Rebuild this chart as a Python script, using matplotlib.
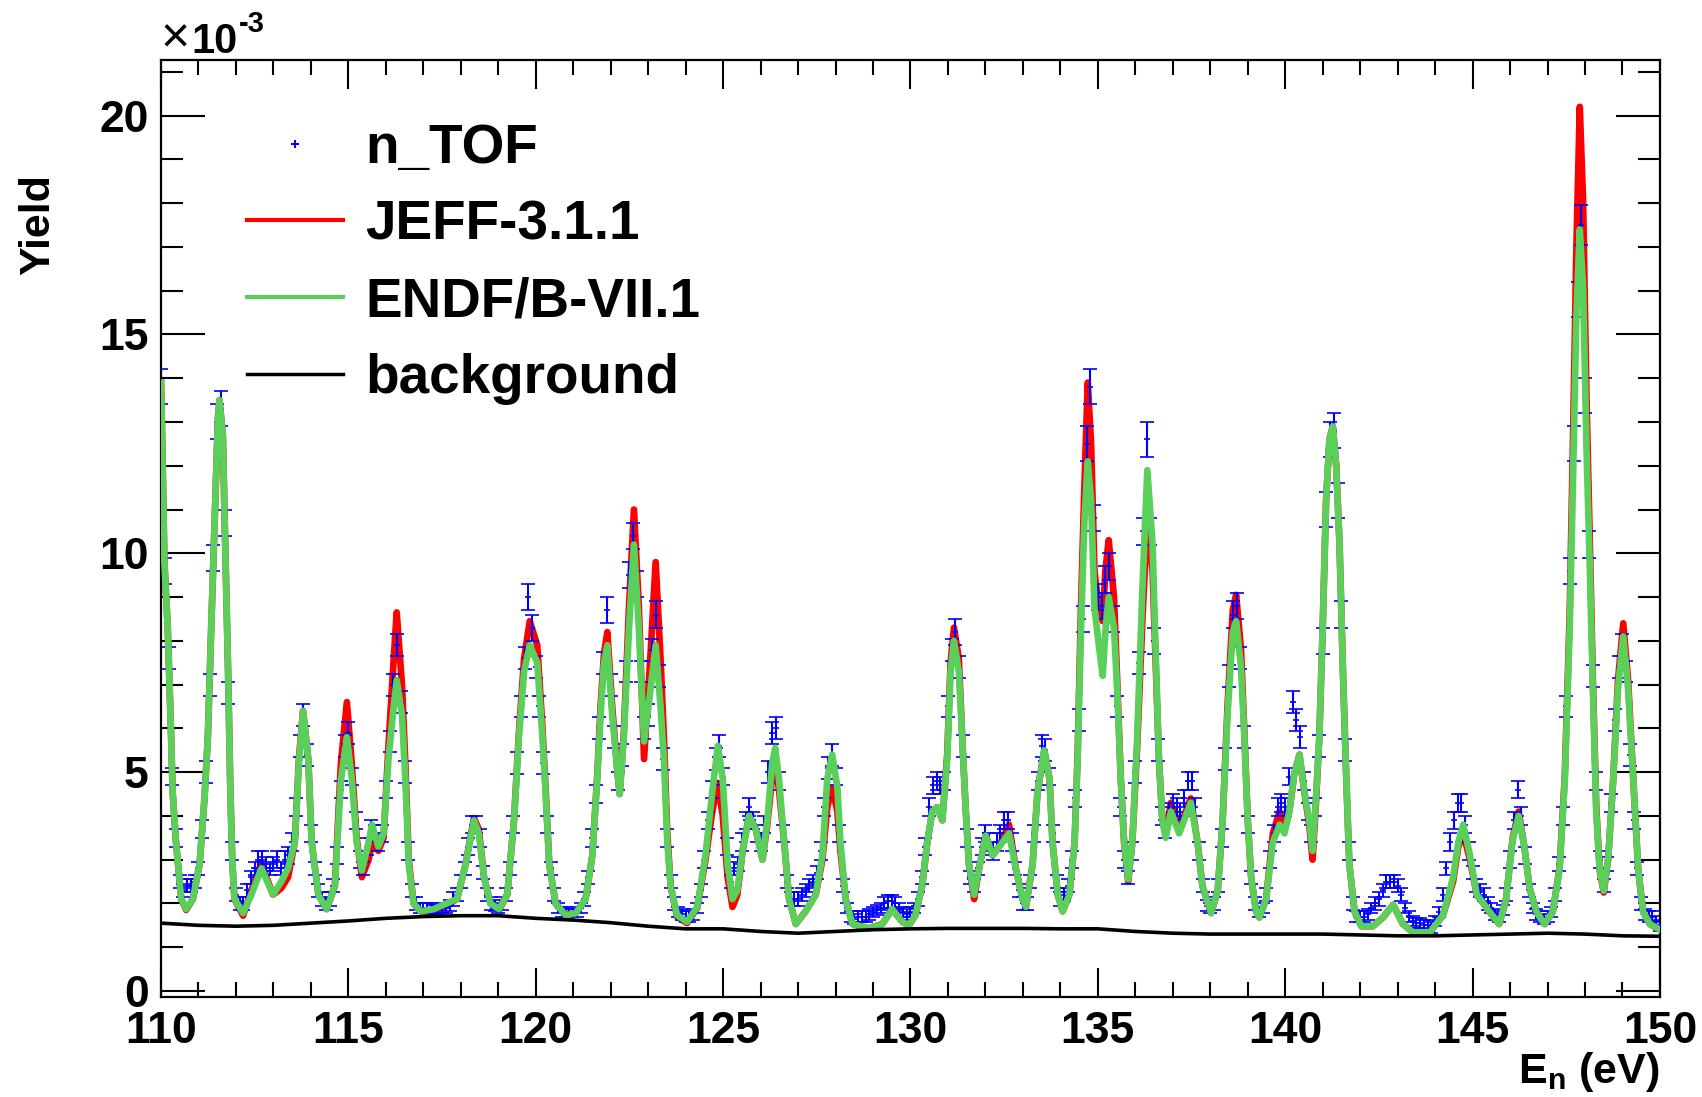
import numpy as np
import matplotlib
matplotlib.use('Agg')
import matplotlib.pyplot as plt
from matplotlib.ticker import MultipleLocator, FormatStrFormatter
from matplotlib.lines import Line2D
from matplotlib.font_manager import FontProperties

plt.rcParams['font.family'] = ['Liberation Sans', 'DejaVu Sans']
plt.rcParams['mathtext.fontset'] = 'custom'
plt.rcParams['mathtext.rm'] = 'Liberation Sans'
plt.rcParams['mathtext.bf'] = 'Liberation Sans:bold'
plt.rcParams['mathtext.it'] = 'Liberation Sans:italic'

# ---------------- data (yield in units of 1e-3) ----------------
x_ticks = [110, 115, 120, 125, 130, 135, 140, 145, 150]
y_ticks = [0, 5, 10, 15, 20]
legend_labels = ['n_TOF', 'JEFF-3.1.1', 'ENDF/B-VII.1', 'background']

model_energy = [
    110.00, 110.04, 110.09, 110.18, 110.27, 110.31, 110.40, 110.54, 110.67, 110.85,
    111.03, 111.16, 111.25, 111.34, 111.43, 111.52, 111.56, 111.65, 111.70, 111.79,
    111.85, 111.90, 111.96, 112.19, 112.41, 112.68, 112.99, 113.21, 113.39, 113.57,
    113.68, 113.79, 113.93, 114.02, 114.20, 114.42, 114.64, 114.80, 114.96, 115.09,
    115.22, 115.36, 115.54, 115.63, 115.80, 115.94, 116.07, 116.21, 116.29, 116.43,
    116.52, 116.61, 116.74, 116.92, 117.28, 117.54, 117.90, 118.13, 118.35, 118.48,
    118.62, 118.79, 119.02, 119.24, 119.42, 119.55, 119.69, 119.84, 120.04, 120.18,
    120.27, 120.36, 120.53, 120.80, 121.07, 121.33, 121.51, 121.64, 121.73, 121.82,
    121.91, 122.04, 122.18, 122.24, 122.35, 122.49, 122.62, 122.75, 122.89, 123.05,
    123.20, 123.33, 123.42, 123.51, 123.60, 123.77, 124.04, 124.31, 124.53, 124.71,
    124.86, 124.99, 125.12, 125.25, 125.38, 125.52, 125.69, 125.87, 126.05, 126.18,
    126.31, 126.39, 126.49, 126.63, 126.76, 126.94, 127.20, 127.47, 127.65, 127.78,
    127.91, 128.05, 128.13, 128.27, 128.45, 128.89, 129.25, 129.51, 129.78, 129.96,
    130.13, 130.31, 130.45, 130.58, 130.71, 130.85, 130.98, 131.07, 131.16, 131.29,
    131.38, 131.47, 131.56, 131.70, 131.83, 132.01, 132.19, 132.37, 132.63, 132.81,
    132.99, 133.08, 133.26, 133.39, 133.57, 133.71, 133.79, 133.93, 134.06, 134.24,
    134.38, 134.46, 134.55, 134.64, 134.73, 134.82, 134.91, 135.04, 135.13, 135.20,
    135.29, 135.43, 135.52, 135.61, 135.70, 135.81, 135.92, 136.05, 136.19, 136.32,
    136.46, 136.54, 136.63, 136.72, 136.81, 136.95, 137.17, 137.48, 137.66, 137.79,
    138.02, 138.20, 138.33, 138.46, 138.60, 138.69, 138.82, 138.91, 139.00, 139.09,
    139.22, 139.31, 139.49, 139.67, 139.85, 139.98, 140.11, 140.24, 140.38, 140.51,
    140.64, 140.73, 140.82, 140.91, 141.00, 141.09, 141.18, 141.27, 141.36, 141.45,
    141.54, 141.63, 141.71, 141.85, 142.03, 142.34, 142.61, 142.88, 143.14, 143.41,
    143.86, 144.21, 144.48, 144.62, 144.75, 144.93, 145.11, 145.29, 145.45, 145.71,
    145.89, 146.07, 146.23, 146.38, 146.52, 146.70, 146.92, 147.14, 147.32, 147.46,
    147.59, 147.68, 147.77, 147.86, 147.95, 148.04, 148.13, 148.21, 148.30, 148.39,
    148.50, 148.62, 148.75, 148.88, 149.02, 149.15, 149.29, 149.42, 149.55, 149.73,
    150.00]

endf_yield = [
    13.9, 12.2, 9.8, 8.3, 5.8, 4.55, 3.4, 2.1, 1.87, 2.1,
    2.9, 4.4, 5.8, 8.3, 10.7, 13.1, 13.5, 12.7, 10.7, 7.3,
    4.6, 3.0, 2.1, 1.78, 2.2, 2.8, 2.2, 2.5, 2.8, 3.4,
    5.2, 6.4, 5.3, 3.4, 2.2, 1.87, 2.4, 4.8, 5.8, 4.85,
    3.4, 2.75, 3.4, 3.8, 3.3, 3.6, 5.3, 6.5, 7.1, 6.3,
    4.85, 2.9, 2.0, 1.82, 1.87, 1.97, 2.1, 2.9, 3.9, 3.6,
    2.6, 2.0, 1.87, 2.2, 3.9, 5.8, 7.3, 7.9, 7.5, 5.8,
    4.4, 2.9, 2.0, 1.73, 1.78, 2.1, 3.1, 4.85, 6.3, 7.5,
    7.9, 6.3, 5.0, 4.5, 5.8, 8.3, 10.2, 8.3, 5.7, 6.8,
    7.9, 6.5, 5.3, 3.4, 2.4, 1.73, 1.58, 1.92, 3.1, 4.55,
    5.6, 4.85, 2.9, 2.1, 2.3, 3.2, 4.0, 3.7, 3.0, 3.9,
    5.2, 5.55, 4.85, 3.4, 2.1, 1.53, 1.82, 2.2, 3.1, 4.85,
    5.4, 4.65, 3.4, 2.1, 1.53, 1.43, 1.53, 1.87, 1.58, 1.5,
    1.73, 2.4, 3.4, 4.1, 4.2, 3.9, 5.3, 7.3, 8.0, 7.3,
    5.8, 4.2, 2.9, 2.2, 2.8, 3.55, 3.1, 3.3, 3.6, 2.8,
    2.1, 1.92, 2.9, 4.55, 5.5, 4.85, 3.4, 2.2, 1.82, 2.2,
    3.4, 5.3, 8.3, 10.7, 12.1, 11.2, 8.75, 7.8, 7.2, 8.2,
    9.0, 8.3, 6.8, 4.85, 3.4, 2.55, 3.4, 5.8, 9.2, 11.9,
    10.2, 7.8, 5.3, 3.9, 3.5, 4.1, 3.6, 4.3, 3.4, 2.4,
    1.78, 2.3, 3.9, 6.3, 8.2, 8.45, 7.4, 5.8, 3.9, 2.6,
    1.82, 1.68, 2.1, 3.4, 3.8, 3.6, 4.1, 4.95, 5.4, 4.55,
    3.9, 3.2, 4.4, 5.8, 8.3, 11.2, 12.6, 12.9, 12.0, 10.2,
    7.3, 4.85, 2.9, 1.82, 1.48, 1.48, 1.68, 1.97, 1.53, 1.34,
    1.34, 1.73, 2.6, 3.4, 3.8, 3.1, 2.2, 2.0, 1.81, 1.53,
    2.08, 3.45, 4.0, 3.3, 2.36, 1.81, 1.53, 1.81, 2.77, 4.8,
    8.25, 11.7, 15.4, 17.4, 16.05, 12.4, 9.6, 6.9, 4.1, 2.77,
    2.29, 3.04, 4.8, 6.9, 8.1, 6.9, 4.8, 2.77, 1.81, 1.53,
    1.40]

jeff_yield = [
    13.9, 12.2, 9.8, 8.3, 5.8, 4.55, 3.4, 2.1, 1.85, 2.1,
    2.9, 4.4, 5.8, 8.3, 10.7, 13.1, 13.5, 12.7, 10.7, 7.3,
    4.6, 3.0, 2.1, 1.72, 2.3, 2.9, 2.2, 2.35, 2.6, 3.4,
    5.3, 6.4, 5.3, 3.4, 2.2, 1.87, 2.4, 5.2, 6.6, 5.2,
    3.5, 2.6, 3.0, 3.4, 3.2, 3.5, 5.6, 7.6, 8.65, 7.0,
    5.2, 3.0, 2.0, 1.82, 1.80, 1.92, 2.1, 2.9, 3.95, 3.7,
    2.6, 2.0, 1.85, 2.2, 3.9, 5.9, 7.6, 8.45, 7.9, 6.0,
    4.5, 2.9, 2.0, 1.73, 1.78, 2.1, 3.1, 4.9, 6.5, 7.7,
    8.2, 6.5, 5.0, 4.5, 5.9, 8.8, 11.0, 8.8, 5.3, 7.5,
    9.8, 7.6, 5.8, 3.6, 2.4, 1.7, 1.55, 1.9, 3.0, 4.1,
    4.75, 4.0, 2.6, 1.92, 2.2, 3.2, 4.0, 3.7, 3.0, 3.8,
    4.9, 5.2, 4.6, 3.4, 2.1, 1.53, 1.82, 2.2, 3.0, 4.2,
    4.65, 4.1, 3.2, 2.1, 1.53, 1.43, 1.53, 1.87, 1.58, 1.5,
    1.73, 2.4, 3.4, 4.1, 4.2, 3.9, 5.4, 7.5, 8.3, 7.6,
    5.8, 4.2, 2.9, 2.1, 2.8, 3.55, 3.1, 3.3, 3.8, 2.8,
    2.1, 1.92, 2.9, 4.55, 5.5, 4.85, 3.4, 2.2, 1.82, 2.2,
    3.4, 5.4, 8.8, 11.5, 13.9, 12.5, 9.6, 8.6, 8.45, 9.6,
    10.3, 9.0, 7.0, 4.9, 3.4, 2.5, 3.4, 5.6, 8.5, 10.8,
    9.6, 7.6, 5.3, 3.9, 3.6, 4.3, 3.7, 4.4, 3.4, 2.4,
    1.78, 2.3, 3.9, 6.5, 8.7, 9.05, 7.8, 5.9, 3.9, 2.6,
    1.82, 1.68, 2.1, 3.6, 4.1, 3.8, 4.1, 4.95, 5.4, 4.55,
    3.8, 3.0, 4.3, 5.8, 8.3, 11.2, 12.6, 12.9, 12.0, 10.2,
    7.3, 4.85, 2.9, 1.82, 1.48, 1.48, 1.68, 1.97, 1.53, 1.34,
    1.34, 1.73, 2.5, 3.3, 3.6, 3.0, 2.2, 2.0, 1.81, 1.53,
    2.08, 3.5, 4.1, 3.3, 2.36, 1.81, 1.53, 1.81, 2.8, 4.9,
    8.6, 12.6, 17.0, 20.2, 18.0, 13.5, 10.2, 7.1, 4.2, 2.77,
    2.25, 3.04, 4.8, 7.1, 8.4, 7.1, 4.8, 2.77, 1.81, 1.53,
    1.40]

bg_energy = [110, 111, 112, 113, 114, 115, 116, 117, 118, 119, 120, 121, 122, 123,
             124, 125, 126, 127, 128, 129, 130, 131, 132, 133, 134, 135, 136, 137,
             138, 139, 140, 141, 142, 143, 144, 145, 146, 147, 148, 149, 150]
bg_yield = [1.55, 1.50, 1.48, 1.50, 1.55, 1.60, 1.66, 1.70, 1.72, 1.72, 1.66, 1.62,
            1.56, 1.48, 1.42, 1.42, 1.36, 1.32, 1.36, 1.40, 1.42, 1.43, 1.43, 1.43,
            1.42, 1.42, 1.36, 1.32, 1.30, 1.30, 1.30, 1.30, 1.28, 1.26, 1.26, 1.28,
            1.30, 1.32, 1.30, 1.26, 1.25]

# n_TOF measured points, one every 0.1 eV from 110.0 to 150.0 eV
data_yield = [
    13.8, 9.6, 7.6, 4.9, 3.5, 2.5, 2.3, 2.4, 2.4, 2.5,
    2.8, 3.7, 5.0, 7.0, 9.9, 13.0, 13.3, 10.7, 6.8, 3.2,
    2.2, 2.0, 2.0, 2.3, 2.6, 2.8, 3.0, 3.0, 2.9, 2.8,
    2.9, 3.0, 2.8, 3.0, 3.1, 3.4, 4.2, 5.6, 6.3, 5.4,
    3.6, 2.8, 2.3, 2.1, 2.0, 2.1, 2.4, 3.1, 4.6, 5.6,
    5.9, 4.9, 3.9, 3.0, 2.8, 3.3, 3.7, 3.6, 3.4, 3.6,
    4.6, 5.7, 7.0, 7.9, 6.6, 5.0, 3.2, 2.3, 2.0, 1.9,
    1.9, 1.9, 1.9, 1.85, 1.85, 1.9, 1.9, 1.95, 2.1, 2.2,
    2.5, 2.8, 3.3, 3.8, 3.8, 3.5, 2.7, 2.2, 2.0, 1.95,
    1.9, 2.0, 2.2, 2.8, 3.8, 5.2, 6.5, 7.6, 9.0, 8.3,
    7.4, 6.5, 5.2, 3.8, 2.8, 2.2, 1.9, 1.8, 1.8, 1.75,
    1.75, 1.8, 1.9, 2.1, 2.6, 3.5, 4.5, 6.0, 7.5, 8.7,
    7.0, 5.8, 4.8, 5.4, 7.3, 9.5, 10.4, 9.3, 7.3, 6.0,
    6.3, 7.8, 8.6, 7.2, 5.3, 3.5, 2.5, 2.0, 1.8, 1.75,
    1.7, 1.7, 1.75, 1.9, 2.3, 3.0, 3.9, 4.6, 5.3, 5.6,
    4.9, 3.3, 2.5, 2.8, 2.9, 3.4, 3.9, 4.2, 3.9, 3.6,
    3.4, 3.8, 5.0, 5.9, 6.0, 4.8, 3.6, 2.5, 2.1, 2.1,
    2.1, 2.2, 2.3, 2.4, 2.5, 2.7, 3.2, 4.2, 5.1, 5.4,
    4.9, 3.6, 2.4, 1.9, 1.7, 1.65, 1.7, 1.7, 1.7, 1.75,
    1.8, 1.85, 1.9, 2.0, 2.05, 2.05, 2.0, 1.9, 1.8, 1.75,
    1.8, 1.9, 2.1, 2.6, 3.3, 4.2, 4.7, 4.8, 4.7, 4.8,
    6.5, 7.8, 8.2, 7.4, 5.6, 3.5, 2.6, 2.4, 2.8, 3.3,
    3.6, 3.4, 3.2, 3.4, 3.6, 3.9, 3.9, 3.4, 2.8, 2.3,
    2.0, 2.0, 2.5, 3.6, 4.8, 5.6, 5.5, 4.9, 3.6, 2.5,
    2.1, 2.2, 2.4, 3.0, 4.4, 6.2, 8.5, 12.5, 13.8, 10.8,
    9.0, 8.8, 9.4, 9.7, 8.5, 6.5, 4.2, 3.0, 2.6, 3.2,
    5.0, 7.5, 10.5, 12.6, 10.5, 8.0, 5.5, 4.0, 3.7, 4.1,
    4.3, 4.2, 4.1, 4.4, 4.8, 4.8, 4.2, 3.2, 2.4, 1.95,
    1.9, 2.0, 2.4, 3.5, 5.3, 7.2, 8.6, 8.8, 7.6, 5.8,
    3.8, 2.6, 2.0, 1.8, 1.9, 2.2, 3.0, 3.6, 4.2, 4.3,
    4.2, 4.9, 6.6, 6.2, 5.8, 4.8, 4.1, 3.6, 4.2, 5.6,
    8.0, 11.0, 12.6, 12.8, 11.2, 8.6, 5.5, 3.2, 2.0, 1.7,
    1.7, 1.7, 1.75, 1.9, 2.0, 2.1, 2.3, 2.5, 2.5, 2.5,
    2.4, 2.2, 1.9, 1.7, 1.6, 1.55, 1.55, 1.5, 1.5, 1.45,
    1.6, 1.8, 2.2, 2.8, 3.4, 3.9, 4.3, 4.3, 3.8, 3.2,
    2.7, 2.4, 2.3, 2.2, 2.0, 1.9, 1.75, 1.7, 1.85, 2.2,
    3.0, 3.9, 4.6, 4.0, 3.1, 2.3, 1.9, 1.75, 1.7, 1.65,
    1.7, 1.8, 2.2, 2.9, 4.0, 6.5, 9.6, 12.5, 15.8, 17.5,
    13.6, 10.2, 7.2, 4.8, 3.0, 2.4, 2.9, 4.3, 6.2, 7.4,
    7.9, 7.3, 5.4, 3.9, 2.8, 2.0, 1.75, 1.7, 1.7, 1.6,
    1.5]

data_err = [
    .4, .3, .25, .2, .2, .15, .15, .15, .15, .15,
    .15, .2, .25, .25, .3, .4, .4, .3, .25, .2,
    .15, .15, .15, .15, .15, .15, .2, .2, .15, .15,
    .15, .2, .15, .2, .2, .2, .2, .25, .25, .25,
    .2, .15, .15, .15, .15, .15, .15, .2, .2, .25,
    .25, .2, .2, .2, .15, .2, .2, .2, .2, .2,
    .2, .25, .25, .25, .25, .25, .2, .15, .15, .12,
    .12, .12, .12, .12, .12, .12, .12, .12, .15, .15,
    .15, .15, .2, .2, .2, .2, .15, .15, .15, .12,
    .12, .15, .15, .15, .2, .25, .25, .25, .3, .3,
    .25, .25, .25, .2, .15, .15, .12, .12, .12, .12,
    .12, .12, .12, .15, .15, .2, .2, .25, .25, .3,
    .25, .25, .2, .25, .25, .3, .3, .3, .25, .25,
    .25, .25, .3, .25, .25, .2, .15, .15, .12, .12,
    .12, .12, .12, .12, .15, .2, .2, .2, .25, .25,
    .2, .2, .15, .15, .15, .2, .2, .2, .2, .2,
    .2, .2, .25, .25, .25, .2, .2, .15, .15, .15,
    .15, .15, .15, .15, .15, .15, .2, .2, .25, .25,
    .2, .2, .15, .12, .12, .12, .12, .12, .12, .12,
    .12, .12, .12, .15, .15, .15, .15, .12, .12, .12,
    .12, .12, .15, .15, .2, .2, .2, .2, .2, .2,
    .25, .25, .3, .25, .25, .2, .15, .15, .15, .2,
    .2, .2, .2, .2, .2, .2, .2, .2, .15, .15,
    .15, .15, .15, .2, .2, .25, .25, .2, .2, .15,
    .15, .15, .15, .2, .2, .25, .3, .4, .4, .3,
    .3, .3, .3, .3, .3, .25, .2, .2, .15, .2,
    .25, .25, .3, .4, .3, .3, .25, .2, .2, .2,
    .2, .2, .2, .2, .2, .2, .2, .2, .15, .12,
    .12, .15, .15, .2, .25, .25, .3, .3, .25, .25,
    .2, .15, .15, .12, .12, .15, .2, .2, .2, .2,
    .2, .2, .25, .25, .25, .2, .2, .2, .2, .25,
    .3, .4, .4, .4, .4, .3, .25, .2, .15, .12,
    .12, .12, .12, .12, .15, .15, .15, .15, .15, .15,
    .15, .15, .12, .12, .12, .12, .12, .12, .12, .12,
    .12, .12, .15, .15, .2, .2, .2, .2, .2, .2,
    .15, .15, .15, .15, .15, .12, .12, .12, .12, .15,
    .2, .2, .2, .2, .2, .15, .12, .12, .12, .12,
    .12, .12, .15, .15, .2, .25, .3, .4, .4, .45,
    .4, .3, .25, .2, .2, .15, .15, .2, .25, .25,
    .25, .25, .25, .2, .15, .15, .12, .12, .12, .12,
    .12]

data_energy = np.round(110.0 + 0.1 * np.arange(len(data_yield)), 1)

# ---------------- figure ----------------
BLUE = '#0000ff'
RED = '#ff0000'
GREEN = '#5ad05a'

fig = plt.figure(figsize=(17.02, 10.97), dpi=100)
ax = fig.add_axes([0.0946, 0.0909, 0.8807, 0.8544])

ax.plot(model_energy, jeff_yield, color=RED, lw=4.8, zorder=2)
ax.errorbar(data_energy, data_yield, yerr=data_err, fmt='+', color=BLUE, ms=4, mew=1.2,
            elinewidth=1.5, capsize=5, capthick=1.5, zorder=2.5)
ax.plot(model_energy, endf_yield, color=GREEN, lw=4.8, zorder=3)
ax.plot(bg_energy, bg_yield, color='black', lw=2.6, zorder=3.5)

ax.set_xlim(110, 150)
ax.set_ylim(-0.144, 21.27)

ax.set_xticks(x_ticks)
ax.set_yticks(y_ticks)
ax.xaxis.set_minor_locator(MultipleLocator(1))
ax.yaxis.set_minor_locator(MultipleLocator(1))
ax.xaxis.set_major_formatter(FormatStrFormatter('%d'))
ax.yaxis.set_major_formatter(FormatStrFormatter('%d'))

ax.tick_params(axis='x', which='both', direction='in', top=True, bottom=True, width=1.5, pad=10,
               labelsize=32)
ax.tick_params(axis='x', which='major', length=21)
ax.tick_params(axis='x', which='minor', length=10.5)
ax.tick_params(axis='y', which='both', direction='in', left=True, right=True, width=1.5, pad=9,
               labelsize=32)
ax.tick_params(axis='y', which='major', length=32)
ax.tick_params(axis='y', which='minor', length=16)
for lbl in ax.get_xticklabels() + ax.get_yticklabels():
    lbl.set_fontweight('bold')
for sp in ax.spines.values():
    sp.set_linewidth(1.6)

ax.text(-0.082, 0.878, 'Yield', rotation=90, ha='center', va='top', fontsize=31,
        fontweight='bold', transform=ax.transAxes)
ax.text(1.0, -0.0797, r'E$_\mathbf{n}$ (eV)', ha='right', va='center', fontsize=31,
        fontweight='bold', transform=ax.transAxes)

# axis multiplier "x10^-3" above the top-left corner
y_base = 1.0075
t_times = ax.text(0.0, y_base, '\u00d7', ha='left', va='baseline', fontsize=36,
                  transform=ax.transAxes)
t_ten = ax.annotate('10', xy=(1.0, y_base), xycoords=(t_times, ax.transAxes),
                    xytext=(1, 0), textcoords='offset points', ha='left', va='baseline',
                    fontsize=30, fontweight='bold')
ax.annotate('-3', xy=(1.0, y_base), xycoords=(t_ten, ax.transAxes),
            xytext=(1, 15), textcoords='offset points', ha='left', va='baseline',
            fontsize=21, fontweight='bold')

handles = [Line2D([], [], color=BLUE, marker='+', ls='none', ms=6, mew=1.5),
           Line2D([], [], color=RED, lw=3),
           Line2D([], [], color=GREEN, lw=3),
           Line2D([], [], color='black', lw=2.5)]
ax.legend(handles, legend_labels, loc='upper left', bbox_to_anchor=(0.0574, 0.933),
          frameon=False, borderpad=0, borderaxespad=0, handlelength=1.75,
          handletextpad=0.40, labelspacing=0.45,
          prop=FontProperties(family='Liberation Sans', weight='bold', size=39.5))

fig.savefig('out.png', dpi=100)
